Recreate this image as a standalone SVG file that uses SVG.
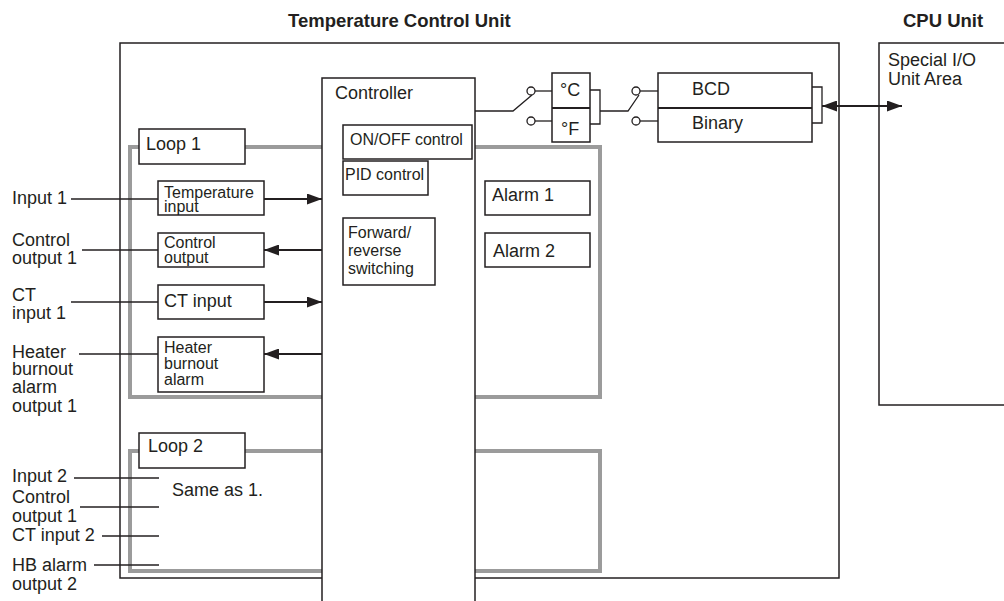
<svg xmlns="http://www.w3.org/2000/svg" width="1004" height="601" viewBox="0 0 1004 601">
<style>
text{font-family:"Liberation Sans",Arial,sans-serif;fill:#231f20}
.t{font-size:18px}
.s{font-size:16px}
.b{font-size:18.5px;font-weight:bold}
.box{fill:#fff;stroke:#231f20;stroke-width:1.5}
.frame{fill:none;stroke:#231f20;stroke-width:1.5}
.loop{fill:none;stroke:#9b9b9b;stroke-width:4}
.ln{fill:none;stroke:#231f20;stroke-width:1.3}
.ar{fill:none;stroke:#231f20;stroke-width:2}
.sw{fill:#fff;stroke:#231f20;stroke-width:1.3}
</style>
<defs>
<marker id="ah" viewBox="0 0 15 11" refX="15" refY="5.5" markerWidth="15" markerHeight="11" markerUnits="userSpaceOnUse" orient="auto-start-reverse">
<path d="M0,0 L15,5.5 L0,11 z" fill="#231f20"/>
</marker>
</defs>
<rect width="1004" height="601" fill="#fff"/>

<g id="titles">
<text class="b" x="288" y="27">Temperature Control Unit</text>
<text class="b" x="903" y="27">CPU Unit</text>
</g>

<g id="tcu">
<rect class="frame" x="120" y="43" width="719" height="535"/>
</g>

<g id="cpu">
<rect class="frame" x="879" y="43" width="140" height="362"/>
<text class="t" x="888" y="66">Special I/O</text>
<text class="t" x="888" y="85">Unit Area</text>
</g>

<g id="loop1">
<rect class="loop" x="130" y="147" width="470" height="250"/>
<rect class="box" x="139" y="129" width="106" height="35"/>
<text class="t" x="146" y="150">Loop 1</text>
</g>

<g id="loop2">
<rect class="loop" x="130" y="451" width="470" height="120"/>
<rect class="box" x="139" y="433" width="106" height="35"/>
<text class="t" x="148" y="452">Loop 2</text>
<text class="t" x="172" y="496">Same as 1.</text>
</g>

<g id="controller">
<rect class="box" x="322" y="78" width="153" height="540"/>
<text class="t" x="335" y="99">Controller</text>
</g>
<g id="onoff">
<rect class="box" x="343" y="125" width="129" height="34"/>
<text class="s" x="350" y="145">ON/OFF control</text>
</g>
<g id="pid">
<rect class="box" x="343" y="161" width="85" height="34"/>
<text class="s" x="345" y="180">PID control</text>
</g>
<g id="fwdrev">
<rect class="box" x="343" y="218" width="92" height="67"/>
<text class="s" x="348" y="238">Forward/</text>
<text class="s" x="348" y="256">reverse</text>
<text class="s" x="348" y="274">switching</text>
</g>
<g id="alarm1">
<rect class="box" x="485" y="181" width="105" height="34"/>
<text class="t" x="492" y="201">Alarm 1</text>
</g>
<g id="alarm2">
<rect class="box" x="485" y="233" width="105" height="34"/>
<text class="t" x="493" y="257">Alarm 2</text>
</g>

<g id="tempinput">
<rect class="box" x="158" y="181" width="106" height="34"/>
<text class="s" x="164" y="198">Temperature</text>
<text class="s" x="164" y="212">input</text>
</g>
<g id="ctrloutput">
<rect class="box" x="158" y="233" width="106" height="34"/>
<text class="s" x="164" y="248">Control</text>
<text class="s" x="164" y="263">output</text>
</g>
<g id="ctinput">
<rect class="box" x="158" y="285" width="106" height="34"/>
<text class="t" x="164" y="307">CT input</text>
</g>
<g id="heater">
<rect class="box" x="158" y="337" width="106" height="55"/>
<text class="s" x="164" y="353">Heater</text>
<text class="s" x="164" y="369">burnout</text>
<text class="s" x="164" y="385">alarm</text>
</g>

<g id="unit-select">
<rect class="box" x="552" y="73" width="38" height="69"/>
<line x1="552" y1="108" x2="590" y2="108" stroke="#231f20" stroke-width="2"/>
<text class="t" x="560" y="96">°C</text>
<text class="t" x="561" y="135">°F</text>
</g>
<g id="format-select">
<rect class="box" x="658" y="73" width="154" height="69"/>
<line x1="658" y1="108" x2="812" y2="108" stroke="#231f20" stroke-width="2"/>
<text class="t" x="692" y="95">BCD</text>
<text class="t" x="692" y="129">Binary</text>
</g>

<g id="left-labels">
<text class="t" x="12" y="204">Input 1</text>
<text class="t" x="12" y="246">Control</text>
<text class="t" x="12" y="264">output 1</text>
<text class="t" x="12" y="301">CT</text>
<text class="t" x="12" y="319">input 1</text>
<text class="t" x="12" y="358">Heater</text>
<text class="t" x="12" y="375">burnout</text>
<text class="t" x="12" y="393">alarm</text>
<text class="t" x="12" y="412">output 1</text>
<text class="t" x="12" y="482">Input 2</text>
<text class="t" x="12" y="503">Control</text>
<text class="t" x="12" y="522">output 1</text>
<text class="t" x="12" y="541">CT input 2</text>
<text class="t" x="12" y="571">HB alarm</text>
<text class="t" x="12" y="590">output 2</text>
</g>

<g id="connectors">
<line class="ln" x1="71" y1="199" x2="158" y2="199"/>
<line class="ln" x1="82" y1="250" x2="158" y2="250"/>
<line class="ln" x1="71" y1="302" x2="158" y2="302"/>
<line class="ln" x1="79" y1="354" x2="158" y2="354"/>
<line class="ln" x1="74" y1="478" x2="159" y2="478"/>
<line class="ln" x1="80" y1="507" x2="159" y2="507"/>
<line class="ln" x1="102" y1="536" x2="159" y2="536"/>
<line class="ln" x1="94" y1="565" x2="159" y2="565"/>

<line class="ar" x1="264" y1="199" x2="322" y2="199" marker-end="url(#ah)"/>
<line class="ar" x1="322" y1="250" x2="264" y2="250" marker-end="url(#ah)"/>
<line class="ar" x1="264" y1="302" x2="322" y2="302" marker-end="url(#ah)"/>
<line class="ar" x1="322" y1="354" x2="264" y2="354" marker-end="url(#ah)"/>

<polyline class="ln" points="475,111 513,111 532,95"/>
<line class="ln" x1="535" y1="91" x2="552" y2="91"/>
<line class="ln" x1="535" y1="121" x2="552" y2="121"/>
<circle class="sw" cx="531" cy="91" r="4"/>
<circle class="sw" cx="531" cy="121" r="4"/>

<polyline class="ln" points="590,90 600,90 600,124 590,124"/>
<polyline class="ln" points="600,111 628,111 639,95"/>
<line class="ln" x1="640" y1="91" x2="658" y2="91"/>
<line class="ln" x1="640" y1="121" x2="658" y2="121"/>
<circle class="sw" cx="636" cy="91" r="4"/>
<circle class="sw" cx="636" cy="121" r="4"/>

<polyline class="ln" points="812,87 822,87 822,123 812,123"/>
<line class="ar" x1="822" y1="106" x2="902" y2="106" marker-start="url(#ah)" marker-end="url(#ah)"/>
</g>
</svg>
